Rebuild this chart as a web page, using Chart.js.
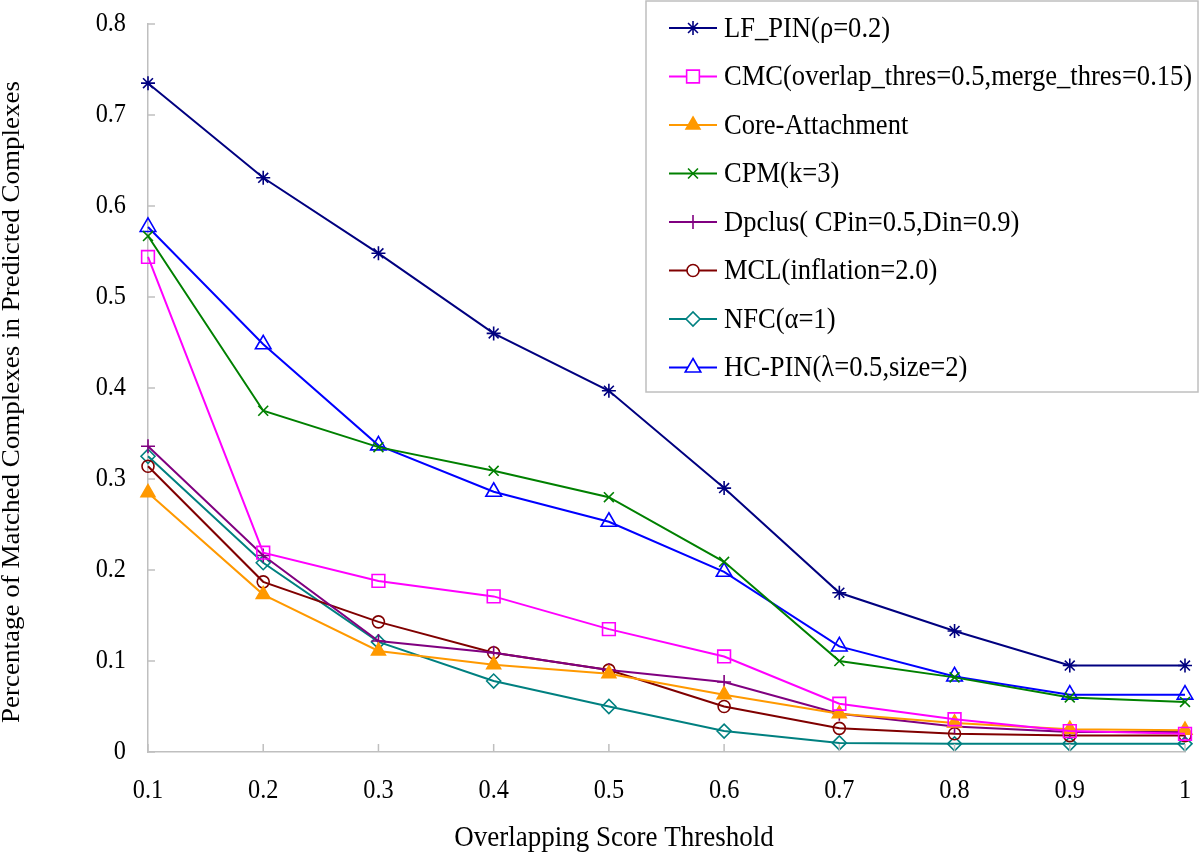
<!DOCTYPE html>
<html>
<head>
<meta charset="utf-8">
<script src="https://cdn.jsdelivr.net/npm/chart.js@4"></script>
<style>
  body { margin: 0; background: #fff; }
  #chart { display: block; }
</style>
</head>
<body>
<canvas id="chart" width="1200" height="854"></canvas>
<script>
// thresholds on the x axis
const thresholds = [0.1, 0.2, 0.3, 0.4, 0.5, 0.6, 0.7, 0.8, 0.9, 1.0];
const yTicks = [0, 0.1, 0.2, 0.3, 0.4, 0.5, 0.6, 0.7, 0.8];

// series
const lfPin   = [0.735, 0.631, 0.548, 0.460, 0.397, 0.290, 0.175, 0.133, 0.095, 0.095];
const cmc     = [0.544, 0.219, 0.188, 0.171, 0.135, 0.105, 0.053, 0.036, 0.023, 0.020];
const coreAtt = [0.285, 0.173, 0.111, 0.096, 0.086, 0.063, 0.042, 0.032, 0.025, 0.024];
const cpm     = [0.567, 0.375, 0.335, 0.309, 0.280, 0.209, 0.100, 0.082, 0.060, 0.055];
const dpclus  = [0.336, 0.216, 0.122, 0.109, 0.090, 0.077, 0.042, 0.028, 0.022, 0.022];
const mcl     = [0.314, 0.187, 0.143, 0.109, 0.090, 0.050, 0.026, 0.020, 0.018, 0.018];
const nfc     = [0.325, 0.208, 0.121, 0.078, 0.050, 0.023, 0.010, 0.009, 0.009, 0.009];
const hcPin   = [0.577, 0.448, 0.337, 0.286, 0.253, 0.198, 0.116, 0.083, 0.063, 0.063];

const FONT = "'Liberation Serif', 'Times New Roman', serif";
const AXIS_GRAY = "#bfbfbf";
const SQUEEZE = 0.9; // the original's text is a bit narrow

function series(label, values, color, style, radius, fill) {
  return {
    label: label,
    data: values.map((v, i) => ({ x: thresholds[i], y: v })),
    borderColor: color,
    backgroundColor: color,
    borderWidth: 2,
    pointStyle: style,
    pointRadius: radius,
    pointHoverRadius: radius,
    pointBorderColor: color,
    pointBackgroundColor: fill ? color : "rgba(255,255,255,0)",
    pointBorderWidth: 1.6,
    tension: 0,
    clip: false
  };
}

const datasets = [
  series("LF_PIN(\u03c1=0.2)", lfPin, "#000080", "star", 7, false),
  series("CMC(overlap_thres=0.5,merge_thres=0.15)", cmc, "#ff00ff", "rect", 9, false),
  series("Core-Attachment", coreAtt, "#ff9900", "triangle", 8, true),
  series("CPM(k=3)", cpm, "#008000", "crossRot", 7, false),
  series("Dpclus( CPin=0.5,Din=0.9)", dpclus, "#800080", "cross", 7, false),
  series("MCL(inflation=2.0)", mcl, "#800000", "circle", 6, false),
  series("NFC(\u03b1=1)", nfc, "#008080", "rectRot", 7, false),
  series("HC-PIN(\u03bb=0.5,size=2)", hcPin, "#0000ff", "triangle", 9, false)
];

function label(ctx, str, x, y, size, align) {
  ctx.save();
  ctx.translate(x, y);
  ctx.scale(SQUEEZE, 1);
  ctx.font = size + "px " + FONT;
  ctx.textAlign = align;
  ctx.textBaseline = "middle";
  ctx.fillStyle = "#000";
  ctx.fillText(str, 0, 0);
  ctx.restore();
}

const fmt = v => String(+v.toFixed(1));

// inward tick marks, tick labels, axis titles and the boxed legend
const decorations = {
  id: "decorations",
  afterDraw(chart) {
    const ctx = chart.ctx;
    const area = chart.chartArea;
    const xs = chart.scales.x, ys = chart.scales.y;
    ctx.save();

    ctx.strokeStyle = AXIS_GRAY;
    ctx.lineWidth = 1.5;
    thresholds.forEach(t => {
      const px = xs.getPixelForValue(t);
      ctx.beginPath();
      ctx.moveTo(px, area.bottom);
      ctx.lineTo(px, area.bottom - 8);
      ctx.stroke();
      label(ctx, fmt(t), px, area.bottom + 39, 27, "center");
    });
    yTicks.forEach(t => {
      const py = ys.getPixelForValue(t);
      ctx.beginPath();
      ctx.moveTo(area.left, py);
      ctx.lineTo(area.left + 7, py);
      ctx.stroke();
      label(ctx, fmt(t), area.left - 22, py, 27, "right");
    });

    label(ctx, "Overlapping Score Threshold", 614, 838, 30, "center");
    ctx.save();
    ctx.translate(13, 402);
    ctx.rotate(-Math.PI / 2);
    ctx.scale(1, SQUEEZE);
    ctx.font = "27px " + FONT;
    ctx.textAlign = "center";
    ctx.textBaseline = "middle";
    ctx.fillStyle = "#000";
    ctx.fillText("Percentage of Matched Complexes in Predicted Complexes", 0, 0);
    ctx.restore();

    // legend box
    ctx.fillStyle = "#fff";
    ctx.fillRect(646, 1, 552, 391);
    ctx.strokeStyle = AXIS_GRAY;
    ctx.lineWidth = 1.5;
    ctx.strokeRect(646, 1, 552, 391);

    chart.data.datasets.forEach((ds, i) => {
      const y = 28 + i * 48.5;
      ctx.strokeStyle = ds.borderColor;
      ctx.lineWidth = 2;
      ctx.beginPath();
      ctx.moveTo(669, y);
      ctx.lineTo(717, y);
      ctx.stroke();
      ctx.fillStyle = ds.pointBackgroundColor === "rgba(255,255,255,0)" ? "#fff" : ds.pointBackgroundColor;
      ctx.strokeStyle = ds.pointBorderColor;
      ctx.lineWidth = ds.pointBorderWidth;
      if (Chart.helpers && Chart.helpers.drawPoint) {
        Chart.helpers.drawPoint(ctx, {
          pointStyle: ds.pointStyle,
          radius: ds.pointRadius,
          rotation: 0,
          borderWidth: ds.pointBorderWidth
        }, 693, y);
      }
      label(ctx, ds.label, 724, y + 1, 29.5, "left");
    });
    ctx.restore();
  }
};

new Chart(document.getElementById("chart"), {
  type: "line",
  data: { datasets: datasets },
  options: {
    responsive: false,
    animation: false,
    devicePixelRatio: 1,
    layout: { padding: { top: 24, right: 15, left: 0, bottom: 0 } },
    plugins: {
      legend: { display: false },
      tooltip: { enabled: false }
    },
    scales: {
      x: {
        type: "linear",
        min: 0.1,
        max: 1,
        afterFit: s => { s.height = 102; },
        grid: { display: false, drawTicks: false },
        border: { display: true, color: AXIS_GRAY, width: 1.5 },
        ticks: { display: false }
      },
      y: {
        min: 0,
        max: 0.8,
        afterFit: s => { s.width = 148; },
        grid: { display: false, drawTicks: false },
        border: { display: true, color: AXIS_GRAY, width: 1.5 },
        ticks: { display: false }
      }
    }
  },
  plugins: [decorations]
});
</script>
</body>
</html>
